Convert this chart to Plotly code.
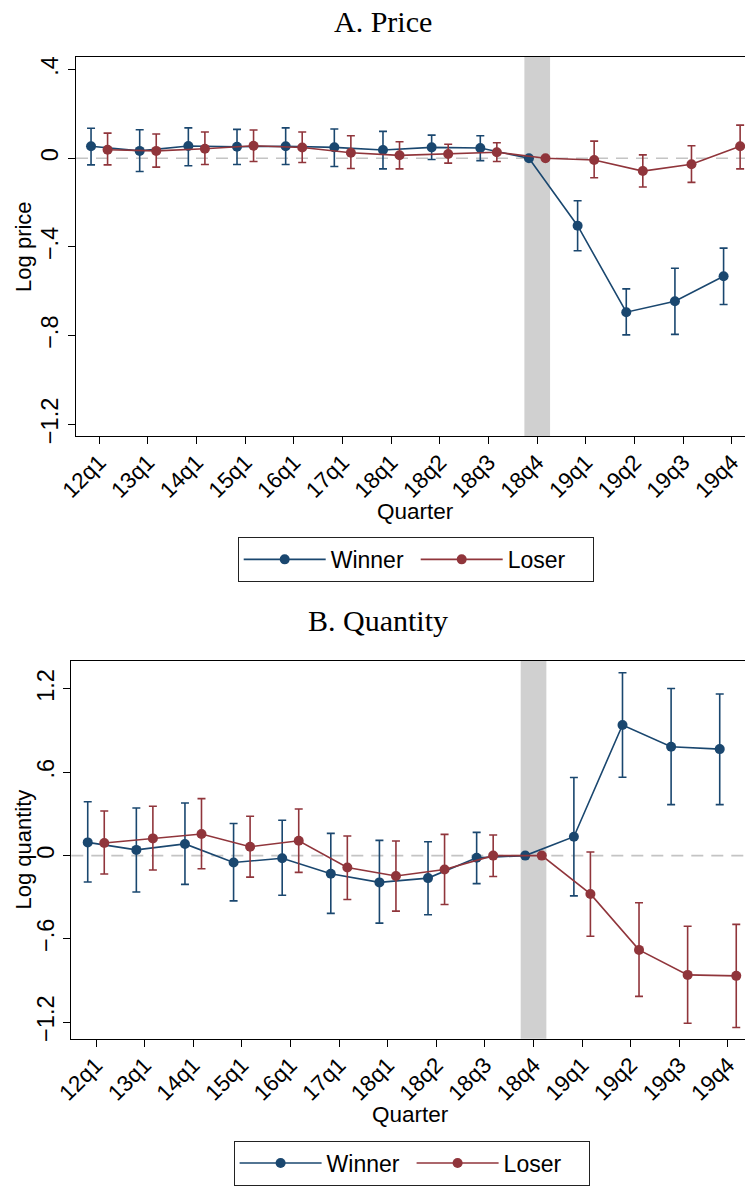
import plotly.graph_objects as go

quarters = ["12q1", "13q1", "14q1", "15q1", "16q1", "17q1", "18q1",
            "18q2", "18q3", "18q4", "19q1", "19q2", "19q3", "19q4"]
series_names = ["Winner", "Loser"]

# Panel A: log price (point estimate, upper CI, lower CI)
price_winner = [0.054, 0.033, 0.055, 0.052, 0.054, 0.049, 0.037, 0.049, 0.046, 0.0, -0.304, -0.694, -0.645, -0.532]
price_winner_hi = [0.135, 0.128, 0.137, 0.130, 0.137, 0.132, 0.121, 0.104, 0.101, None, -0.192, -0.589, -0.496, -0.405]
price_winner_lo = [-0.030, -0.060, -0.034, -0.028, -0.028, -0.037, -0.048, -0.006, -0.011, None, -0.417, -0.796, -0.794, -0.659]
price_loser = [0.038, 0.033, 0.043, 0.056, 0.048, 0.025, 0.013, 0.019, 0.027, 0.0, -0.008, -0.058, -0.027, 0.054]
price_loser_hi = [0.113, 0.109, 0.118, 0.127, 0.118, 0.101, 0.074, 0.063, 0.070, None, 0.077, 0.015, 0.056, 0.149]
price_loser_lo = [-0.030, -0.040, -0.028, -0.015, -0.019, -0.046, -0.048, -0.022, -0.015, None, -0.088, -0.130, -0.109, -0.048]

# Panel B: log quantity
qty_winner = [0.095, 0.041, 0.084, -0.050, -0.019, -0.131, -0.193, -0.162, -0.016, 0.0, 0.136, 0.941, 0.784, 0.767]
qty_winner_hi = [0.388, 0.343, 0.379, 0.231, 0.255, 0.160, 0.110, 0.100, 0.167, None, 0.562, 1.317, 1.203, 1.164]
qty_winner_lo = [-0.190, -0.262, -0.207, -0.326, -0.286, -0.416, -0.486, -0.426, -0.202, None, -0.290, 0.564, 0.367, 0.367]
qty_loser = [0.091, 0.124, 0.155, 0.064, 0.107, -0.086, -0.147, -0.100, 0.000, 0.0, -0.276, -0.679, -0.859, -0.866]
qty_loser_hi = [0.321, 0.355, 0.410, 0.283, 0.336, 0.141, 0.105, 0.153, 0.148, None, 0.026, -0.340, -0.509, -0.495]
qty_loser_lo = [-0.133, -0.104, -0.095, -0.155, -0.121, -0.316, -0.400, -0.352, -0.150, None, -0.581, -1.014, -1.207, -1.238]

price_ticks = [0.4, 0, -0.4, -0.8, -1.2]
price_ticktext = [".4", "0", "\u2212.4", "\u2212.8", "\u22121.2"]
qty_ticks = [1.2, 0.6, 0, -0.6, -1.2]
qty_ticktext = ["1.2", ".6", "0", "\u2212.6", "\u22121.2"]

W, H = 745, 1186
BLUE = "#1a476f"
RED = "#90353b"
SANS = "Liberation Sans, Arial, sans-serif"
SERIF = "Liberation Serif, Times New Roman, serif"
DODGE = 0.17
idx = list(range(len(quarters)))


def errs(mid, hi, lo):
    plus = [None if h is None else h - m for m, h in zip(mid, hi)]
    minus = [None if l is None else m - l for m, l in zip(mid, lo)]
    return plus, minus


fig = go.Figure()

panels = [
    ("x", "y", "legend", [(price_winner, price_winner_hi, price_winner_lo, BLUE, -DODGE),
                          (price_loser, price_loser_hi, price_loser_lo, RED, DODGE)]),
    ("x2", "y2", "legend2", [(qty_winner, qty_winner_hi, qty_winner_lo, BLUE, -DODGE),
                             (qty_loser, qty_loser_hi, qty_loser_lo, RED, DODGE)]),
]

for xa, ya, lg, series in panels:
    for name, (mid, hi, lo, col, off) in zip(series_names, series):
        plus, minus = errs(mid, hi, lo)
        fig.add_trace(go.Scatter(
            x=[i + off for i in idx], y=mid, name=name,
            mode="lines+markers", xaxis=xa, yaxis=ya, legend=lg,
            line=dict(color=col, width=1.6),
            marker=dict(color=col, size=10),
            error_y=dict(type="data", symmetric=False, array=plus, arrayminus=minus,
                         color=col, thickness=1.6, width=4),
        ))

# shaded event quarter and zero reference line
for xa, ya in [("x", "y"), ("x2", "y2")]:
    fig.add_shape(type="rect", xref=xa, yref=ya + " domain", x0=9 - 0.264, x1=9 + 0.264,
                  y0=0, y1=1, fillcolor="#d0d0d0", line=dict(width=0), layer="below")
    fig.add_shape(type="line", xref=xa + " domain", yref=ya, x0=0, x1=1, y0=0, y1=0,
                  line=dict(color="#c4c4c4", width=1.6, dash="12px,8px"), layer="below")

axis_common = dict(showgrid=False, zeroline=False, showline=True, linecolor="black",
                   linewidth=1.3, ticks="outside", ticklen=7, tickcolor="black",
                   tickwidth=1.3, automargin=False)
xaxis_common = dict(tickvals=idx, ticktext=quarters, tickangle=-45,
                    tickfont=dict(size=22.5), ticklabelstandoff=-4, mirror=True)

legend_common = dict(orientation="h", xanchor="center", yanchor="top",
                     bordercolor="#222", borderwidth=1, bgcolor="white",
                     font=dict(size=23), itemwidth=82, entrywidth=80)

fig.update_layout(
    width=W, height=H,
    margin=dict(l=0, r=0, t=0, b=0),
    paper_bgcolor="white", plot_bgcolor="white",
    font=dict(family=SANS, color="black"),
    xaxis=dict(domain=[76 / W, 1], range=[-0.479, 13.27], anchor="y",
               **xaxis_common, **axis_common),
    yaxis=dict(domain=[1 - 439.3 / H, 1 - 57.3 / H], range=[-1.2518, 0.4568],
               tickvals=price_ticks, ticktext=price_ticktext, tickangle=-90,
               tickfont=dict(size=23.5), anchor="x", **axis_common),
    xaxis2=dict(domain=[71.3 / W, 1], range=[-0.508, 13.35], anchor="y2",
                **xaxis_common, **axis_common),
    yaxis2=dict(domain=[1 - 1046.7 / H, 1 - 665.7 / H], range=[-1.319, 1.404],
                tickvals=qty_ticks, ticktext=qty_ticktext, tickangle=-90,
                tickfont=dict(size=23.5), anchor="x2", **axis_common),
    legend=dict(x=415.7 / W, y=1 - 541 / H, **legend_common),
    legend2=dict(x=411.6 / W, y=1 - 1149.3 / H, **legend_common),
    showlegend=True,
)

annots = [
    dict(text="A. Price", x=382.5 / W, y=1 - 22 / H, font=dict(family=SERIF, size=30)),
    dict(text="B. Quantity", x=377.8 / W, y=1 - 625 / H, font=dict(family=SERIF, size=30)),
    dict(text="Log price", x=23.5 / W, y=1 - 248.3 / H, textangle=-90, font=dict(size=22)),
    dict(text="Log quantity", x=24 / W, y=1 - 856 / H, textangle=-90, font=dict(size=22)),
    dict(text="Quarter", x=416 / W, y=1 - 515 / H, font=dict(size=22.5)),
    dict(text="Quarter", x=411 / W, y=1 - 1123 / H, font=dict(size=22.5)),
]
for a in annots:
    fig.add_annotation(xref="paper", yref="paper", showarrow=False,
                       xanchor="center", yanchor="middle", **a)

fig.write_html("out.html")
